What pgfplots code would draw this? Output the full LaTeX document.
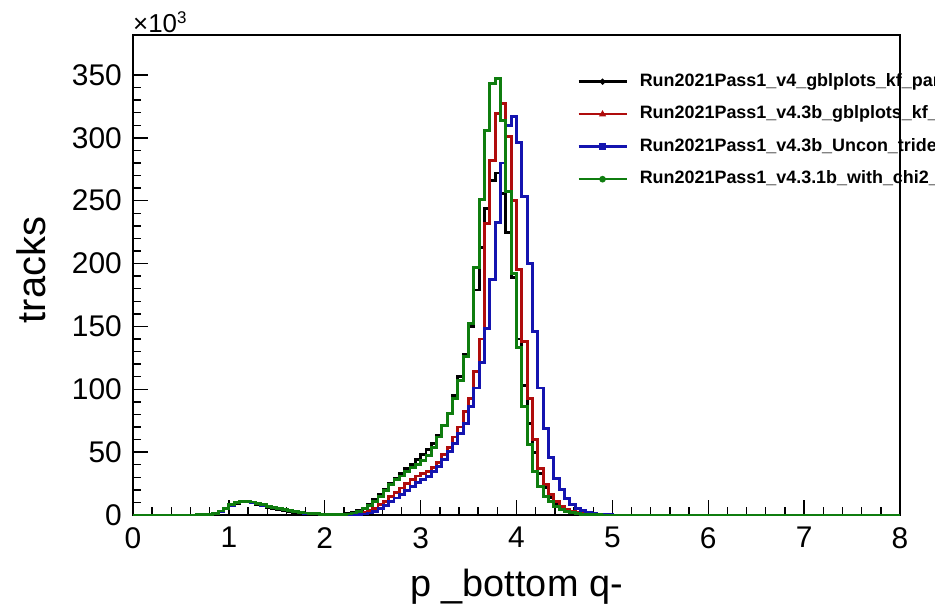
\documentclass[border=0pt]{standalone}
\usepackage{fontspec}
\setmainfont{Liberation Sans}
\usepackage{pgfplots}
\pgfplotsset{compat=1.18}
\usepackage{pgfplotstable}
\definecolor{hblk}{RGB}{0,0,0}
\definecolor{hred}{RGB}{175,12,12}
\definecolor{hblu}{RGB}{20,20,175}
\definecolor{hgrn}{RGB}{15,125,15}

\pgfplotstableread{
x blk red blu grn
0 0 0 0 0
0.6667 0.05 0.05 0.05 0.05
0.7222 0.2 0.2 0.2 0.2
0.7778 0.5 0.6 0.6 0.6
0.8333 1.4 1.5 1.5 1.5
0.8889 3.0 3.1 3.1 3.2
0.9444 5.2 5.4 5.4 5.5
1.0000 7.6 7.9 7.9 8.0
1.0556 9.5 9.9 9.9 10.0
1.1111 10.4 10.8 10.8 11.0
1.1667 10.3 10.8 10.8 11.0
1.2222 9.6 10.1 10.1 10.3
1.2778 8.5 9.0 9.0 9.2
1.3333 7.3 7.8 7.8 8.0
1.3889 6.2 6.7 6.7 6.9
1.4444 5.2 5.7 5.7 5.9
1.5000 4.3 4.8 4.8 5.0
1.5556 3.5 4.0 4.0 4.1
1.6111 2.8 3.3 3.3 3.4
1.6667 2.2 2.6 2.6 2.7
1.7222 1.7 2.0 2.0 2.1
1.7778 1.3 1.5 1.5 1.6
1.8333 1.0 1.1 1.1 1.2
1.8889 0.7 0.8 0.8 0.9
1.9444 0.5 0.6 0.6 0.7
2.0000 0.4 0.45 0.45 0.5
2.0556 0.4 0.35 0.35 0.4
2.1111 0.5 0.3 0.3 0.45
2.1667 0.7 0.4 0.3 0.6
2.2222 1.0 0.5 0.35 0.8
2.2778 2.0 0.7 0.45 1.6
2.3333 3.5 1.0 0.6 3.0
2.3889 5.5 2.0 0.8 5.0
2.4444 8.5 3.5 1.6 7.8
2.5000 12 5.5 3.0 11
2.5556 16 8 5 15
2.6111 20.5 11 7.5 19.5
2.6667 25 14.5 10.5 24
2.7222 29 18 13.5 28
2.7778 33 21.5 16.5 31
2.8333 37 25 19.5 34.5
2.8889 40.5 28 22.5 37.5
2.9444 44 31 25.5 40
3.0000 48 33 28 43
3.0556 52 34.5 30.5 47.5
3.1111 57 38 34.5 54
3.1667 63 42 38.4 62
3.2222 71 48 43.8 71
3.2778 81 54 50.4 81
3.3333 95 62 57 93
3.3889 110 70 65 107
3.4444 128 82 73 126
3.5000 150 93 86 152.5
3.5556 179 114 101 197
3.6111 213 140 121 251
3.6667 244 232 148.5 306
3.7222 266 282 187 343
3.7778 272 319 233 347
3.8333 256 327 280 314
3.8889 225 301 310 257
3.9444 189 250 317 192
4.0000 140 195 296 133
4.0556 103 138 253 86
4.1111 73 93 200 56
4.1667 50 60 146 34.5
4.2222 33 37 101 22.5
4.2778 22 24 69 15
4.3333 14 16 46 11
4.3889 9 10.6 29 7
4.4444 6 7 20 4.5
4.5000 4 4.5 13 2.7
4.5556 2.5 3 8 1.7
4.6111 1.5 2 5.3 1.0
4.6667 0.8 1.2 3.4 0.5
4.7222 0.4 0.6 2 0.3
4.7778 0.2 0.3 1 0.15
4.8333 0.1 0.15 0.5 0.05
4.8889 0.05 0.05 0.2 0
4.9444 0 0 0.05 0
5.0000 0 0 0 0
8 0 0 0 0
}\hist

\begin{document}
\begin{tikzpicture}[x=1bp,y=1bp]
\begin{axis}[
  at={(0,0)}, anchor=south west,
  width=767bp, height=480bp, scale only axis,
  xmin=0, xmax=8, ymin=0, ymax=381.8,
  clip=false,
  axis line style={line width=2bp},
  tick style={black, line width=1.4bp},
  major tick length=15bp, minor tick length=8bp,
  tick align=inside, tick pos=left,
  xtick={0,1,...,8}, ytick={0,50,...,350},
  minor x tick num=4, minor y tick num=4,
  /pgf/number format/assume math mode=true,
  ticklabel style={font=\fontsize{30}{36}\selectfont, inner sep=0pt},
  xticklabel style={yshift=-12bp},
  yticklabel style={xshift=-11bp},
  xlabel={p \_bottom q-},
  ylabel={tracks},
  xlabel style={font=\fontsize{38}{44}\selectfont, at={(axis description cs:0.5,-0.169)}, anchor=base, inner sep=0pt},
  ylabel style={font=\fontsize{40}{46}\selectfont, at={(axis description cs:-0.1147,0.51)}, anchor=base, inner sep=0pt},
  legend style={at={(axis description cs:0.579,0.9208)}, anchor=north west,
    draw=none, fill=none, inner sep=0pt, row sep=15.5bp,
    font=\bfseries\fontsize{18}{21}\selectfont,
    nodes={inner sep=0pt, text height=13bp, text depth=4bp}},
  legend cell align=left,
  legend image code/.code={\draw[mark repeat=2,mark phase=2,#1] plot coordinates {(0bp,0bp) (24bp,0bp) (48bp,0bp)}; \path (60bp,0bp);},
]
\addplot[const plot, hblk, line width=2.9bp, forget plot] table[x=x,y=blk]{\hist};
\addplot[const plot, hred, line width=2.9bp, forget plot] table[x=x,y=red]{\hist};
\addplot[const plot, hblu, line width=2.9bp, forget plot] table[x=x,y=blu]{\hist};
\addplot[const plot, hgrn, line width=2.9bp, forget plot] table[x=x,y=grn]{\hist};
\addlegendimage{hblk, line width=2.5bp, mark=*, mark size=1.5bp}
\addlegendentry{Run2021Pass1\_v4\_gblplots\_kf\_par}
\addlegendimage{hred, line width=2.5bp, mark=triangle*, mark size=1.6bp}
\addlegendentry{Run2021Pass1\_v4.3b\_gblplots\_kf\_}
\addlegendimage{hblu, line width=2.5bp, mark=square*, mark size=2bp}
\addlegendentry{Run2021Pass1\_v4.3b\_Uncon\_tride}
\addlegendimage{hgrn, line width=2.5bp, mark=*, mark size=2bp}
\addlegendentry{Run2021Pass1\_v4.3.1b\_with\_chi2\_}
\node[anchor=base west, inner sep=0pt, font=\fontsize{26}{30}\selectfont] at (rel axis cs:0,1) [yshift=2bp] {×10\raisebox{9bp}{\fontsize{17}{20}\selectfont 3}};
\end{axis}
\pgfresetboundingbox
\path[use as bounding box] (-133,-89) rectangle (802,515);
\end{tikzpicture}
\end{document}
